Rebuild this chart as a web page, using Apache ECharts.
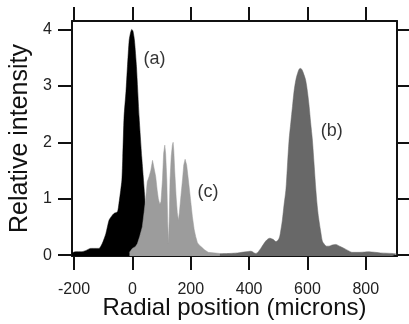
<!DOCTYPE html>
<html>
<head>
<meta charset="utf-8">
<script src="https://cdn.jsdelivr.net/npm/echarts@6/dist/echarts.min.js"></script>
<style>
  html, body { margin: 0; padding: 0; background: #fff; }
  #chart { width: 409px; height: 324px; }
</style>
</head>
<body>
<div id="chart"></div>
<script>
// (a) black profile
var aX = [-207, -194, -175, -160, -143, -125, -114, -103, -91, -80, -70, -63, -51, -46, -40, -36, -33, -28.6, -22, -17, -11, -6, -2, 2, 7, 14, 23, 32, 37, 42, 46, 50, 56, 65, 80];
var aY = [0.04, 0.06, 0.06, 0.08, 0.12, 0.12, 0.12, 0.21, 0.38, 0.62, 0.7, 0.74, 0.77, 0.92, 1.15, 1.33, 1.74, 2.45, 2.9, 3.34, 3.81, 3.95, 4.0, 3.97, 3.81, 3.34, 2.45, 1.74, 1.4, 1.05, 0.7, 0.35, 0.12, 0.05, 0.03];

// (c) light grey profile
var cX = [-10, 0, 10, 17, 25, 34, 40, 46, 51, 57, 63, 69, 74, 80, 85, 89, 94, 98, 103, 107, 111, 114, 118, 121, 123.6, 126, 129, 133, 137, 139.6, 142, 145, 150, 154, 157.7, 161, 166, 172, 176, 180.7, 186, 192, 199, 205.7, 212, 217, 223, 229, 238, 246, 260, 300, 340, 420];
var cY = [0.05, 0.12, 0.15, 0.2, 0.33, 0.5, 0.75, 1.03, 1.3, 1.39, 1.5, 1.68, 1.55, 1.39, 1.15, 1.0, 0.9, 0.95, 1.33, 1.8, 1.95, 1.8, 1.33, 0.6, 0.21, 0.6, 1.33, 1.75, 1.95, 2.0, 1.85, 1.5, 1.03, 0.75, 0.62, 0.75, 1.03, 1.35, 1.6, 1.7, 1.6, 1.33, 1.0, 0.68, 0.45, 0.33, 0.22, 0.18, 0.14, 0.1, 0.05, 0.03, 0.02, 0.02];

// (b) dark grey profile
var bX = [300, 332, 360, 389, 406, 423, 440, 457, 471, 482, 492, 503, 509, 514, 520, 526, 531, 537, 543, 548.6, 554, 560, 566, 572, 577, 582, 588, 594, 600, 606, 611, 617, 623, 629, 635, 640, 646, 651, 657, 665, 674, 685, 697, 710, 726, 740, 754, 780, 811, 850, 891, 907];
var bY = [0.02, 0.03, 0.04, 0.06, 0.07, 0.03, 0.12, 0.25, 0.3, 0.28, 0.24, 0.3, 0.45, 0.62, 0.9, 1.15, 1.55, 2.04, 2.35, 2.63, 2.9, 3.1, 3.22, 3.3, 3.31, 3.28, 3.2, 3.1, 2.9, 2.63, 2.35, 2.04, 1.6, 1.15, 0.8, 0.6, 0.4, 0.25, 0.2, 0.16, 0.16, 0.18, 0.19, 0.16, 0.12, 0.08, 0.05, 0.05, 0.06, 0.04, 0.03, 0.02];

var xTicks = [-200, 0, 200, 400, 600, 800];
var yTicks = [0, 1, 2, 3, 4];

var noteText = ['(a)', '(b)', '(c)'];
var noteX = [76, 683, 259];
var noteY = [3.47, 2.2, 1.12];

function pairs(xs, ys) {
  var out = [];
  for (var i = 0; i < xs.length; i++) out.push([xs[i], ys[i]]);
  return out;
}

var font = 'Liberation Sans, Arial, Helvetica, sans-serif';
var axisLine = { show: true, onZero: false, lineStyle: { color: '#111', width: 2 } };
var tickStyle = { color: '#111', width: 2 };

var myChart = echarts.init(document.getElementById('chart'));
myChart.setOption({
  animation: false,
  textStyle: { fontFamily: font },
  grid: { left: 72, right: 12, top: 21, bottom: 68, containLabel: false, outerBoundsMode: 'none' },
  xAxis: [
    {
      type: 'value', position: 'bottom', min: -207, max: 907,
      axisLine: axisLine,
      axisTick: { show: true, inside: false, length: 14, lineStyle: tickStyle, customValues: xTicks },
      axisLabel: { customValues: xTicks, fontSize: 16, color: '#222', margin: 26, fontFamily: font },
      splitLine: { show: false },
      name: 'Radial position (microns)', nameLocation: 'middle', nameGap: 40, nameMoveOverlap: false,
      nameTextStyle: { fontSize: 24, color: '#111', fontFamily: font }
    },
    {
      type: 'value', position: 'top', min: -207, max: 907,
      axisLine: axisLine,
      axisTick: { show: true, inside: false, length: 14, lineStyle: tickStyle, customValues: xTicks },
      axisLabel: { show: false },
      splitLine: { show: false }
    }
  ],
  yAxis: [
    {
      type: 'value', position: 'left', min: -0.015, max: 4.15,
      axisLine: axisLine,
      axisTick: { show: true, inside: false, length: 14, lineStyle: tickStyle, customValues: yTicks },
      axisLabel: { customValues: yTicks, fontSize: 16, color: '#222', margin: 20, fontFamily: font },
      splitLine: { show: false },
      name: 'Relative intensity', nameLocation: 'middle', nameGap: 39, nameMoveOverlap: false,
      nameTextStyle: { fontSize: 25, color: '#111', fontFamily: font }
    },
    {
      type: 'value', position: 'right', min: -0.015, max: 4.15,
      axisLine: axisLine,
      axisTick: { show: true, inside: false, length: 14, lineStyle: tickStyle, customValues: yTicks },
      axisLabel: { show: false },
      splitLine: { show: false }
    }
  ],
  series: [
    {
      name: 'a', type: 'line', xAxisIndex: 0, yAxisIndex: 0, z: 2,
      data: pairs(aX, aY), symbol: 'none', smooth: 0.2,
      lineStyle: { width: 0.5, color: '#000' },
      areaStyle: { color: '#000', opacity: 1, origin: 'start' }
    },
    {
      name: 'c', type: 'line', xAxisIndex: 0, yAxisIndex: 0, z: 3,
      data: pairs(cX, cY), symbol: 'none', smooth: false,
      lineStyle: { width: 0.5, color: '#9c9c9c' },
      areaStyle: { color: '#9c9c9c', opacity: 1, origin: 'start' }
    },
    {
      name: 'b', type: 'line', xAxisIndex: 0, yAxisIndex: 0, z: 4,
      data: pairs(bX, bY), symbol: 'none', smooth: 0.3,
      lineStyle: { width: 0.5, color: '#686868' },
      areaStyle: { color: '#686868', opacity: 1, origin: 'start' }
    },
    {
      name: 'notes', type: 'scatter', xAxisIndex: 0, yAxisIndex: 0, z: 5,
      symbolSize: 0,
      data: noteText.map(function (t, i) { return { value: [noteX[i], noteY[i]], name: t }; }),
      label: {
        show: true, position: 'inside', formatter: '{b}',
        fontSize: 18, color: '#000', fontFamily: font
      }
    }
  ]
});
</script>
</body>
</html>
